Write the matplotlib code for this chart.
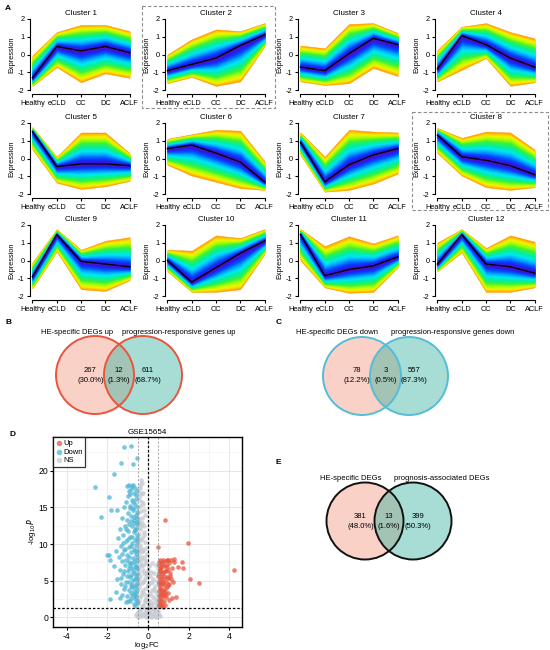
import numpy as np
import matplotlib
matplotlib.use("Agg")
import matplotlib.pyplot as plt
from matplotlib.colors import LinearSegmentedColormap
from matplotlib.patches import Circle, Rectangle

plt.rcParams['font.family'] = ['Liberation Sans', 'DejaVu Sans']
plt.rcParams['axes.unicode_minus'] = False

# ---------------- data ----------------
stages = ['Healthy', 'eCLD', 'CC', 'DC', 'ACLF']
cluster_names = ['Cluster %d' % i for i in range(1, 13)]

centers = [
    [-1.3, 0.45, 0.2, 0.45, 0.1],
    [-0.9, -0.55, -0.2, 0.5, 1.1],
    [-0.7, -0.9, 0.05, 0.9, 0.55],
    [-0.8, 1.05, 0.55, -0.2, -0.7],
    [1.5, -0.45, -0.3, -0.3, -0.4],
    [0.55, 0.75, 0.3, -0.2, -1.3],
    [0.9, -1.3, -0.35, 0.2, 0.55],
    [1.3, 0.1, -0.1, -0.4, -0.9],
    [-0.9, 1.45, -0.05, -0.2, -0.35],
    [0.0, -1.2, -0.4, 0.4, 1.1],
    [1.45, -0.85, -0.5, -0.3, 0.2],
    [-0.2, 1.45, -0.2, -0.35, -0.7],
]
upper_env = [
    [-0.05, 1.25, 1.65, 1.65, 1.3],
    [0.0, 0.85, 1.4, 1.3, 1.75],
    [0.5, 0.35, 1.7, 1.75, 1.2],
    [0.25, 1.55, 1.75, 1.25, 0.9],
    [1.75, 0.1, 1.45, 1.45, 0.3],
    [1.1, 1.35, 1.6, 1.55, -0.15],
    [1.45, 0.1, 1.6, 1.5, 1.45],
    [1.7, 1.15, 1.5, 1.45, 0.5],
    [-0.1, 1.75, 0.6, 1.1, 1.3],
    [0.6, 0.55, 1.4, 1.25, 1.75],
    [1.75, 0.8, 1.35, 0.95, 1.4],
    [1.0, 1.75, 0.7, 1.4, 1.05],
]
lower_env = [
    [-1.75, -0.7, -1.55, -1.05, -1.3],
    [-1.6, -1.25, -1.75, -1.5, 0.45],
    [-1.5, -1.7, -1.6, -0.75, -1.2],
    [-1.5, -0.85, -0.2, -1.75, -1.55],
    [0.5, -1.35, -1.7, -1.55, -1.25],
    [-0.35, -0.95, -1.3, -1.65, -1.75],
    [0.2, -1.85, -1.75, -1.4, -0.85],
    [0.3, -0.95, -1.6, -1.75, -1.6],
    [-1.55, 0.5, -1.6, -1.7, -1.1],
    [-0.6, -1.75, -1.75, -1.6, 0.35],
    [0.0, -1.5, -1.8, -1.75, -0.4],
    [-0.6, 0.45, -1.75, -1.75, -1.5],
]

venn_B_sets = ['HE-specific DEGs up', 'progression-responsive genes up']
venn_B_counts = [267, 12, 611]
venn_C_sets = ['HE-specific DEGs down', 'progression-responsive genes down']
venn_C_counts = [78, 3, 557]
venn_E_sets = ['HE-specific DEGs', 'prognosis-associated DEGs']
venn_E_counts = [381, 13, 399]

volcano_title = 'GSE15654'
down_fc = [-1.19, -0.84, -1.33, -0.75, -0.53, -1.66, -2.62, -1.91, -1.84, -2.34, -1.93, -1.87, -1.55, -2.03, -1.88,
           -1.05, -0.95, -0.85, -0.78, -0.9, -1.0, -0.7, -0.6, -0.8, -1.1, -0.65, -0.9, -0.55, -1.2, -0.75, -1.0,
           -0.6, -0.85, -1.3, -0.7, -0.55, -0.95,
           -1.15, -0.8, -0.6, -1.4, -1.0, -0.7, -0.55, -1.25, -0.9, -1.5, -0.65, -1.1, -0.8, -0.58, -1.35, -0.95,
           -0.7, -1.2, -1.6, -0.85, -0.6, -1.05, -1.45, -0.75,
           -0.55, -1.3, -0.95, -0.65, -1.15, -1.7, -0.8, -0.56, -1.4, -1.0, -0.7, -1.25, -0.6, -0.9, -1.55, -0.75,
           -1.1, -0.55, -1.35, -0.85, -0.65, -1.2, -0.95, -1.6, -0.58, -0.75, -1.05, -1.4, -0.62, -0.9, -0.55,
           -0.7, -1.1, -0.52, -0.68, -0.88, -0.52, -0.62, -0.72, -0.54, -0.66, -0.8, -0.57,
           -0.52, -0.62, -0.72, -0.88, -0.53, -0.67, -0.83, -1.08, -0.52, -0.63, -0.77, -0.98, -1.22, -0.54,
           -0.86, -1.12, -0.64, -0.93, -1.28, -0.53, -0.69, -0.84, -1.08, -0.58, -0.95, -1.18, -0.74, -0.52,
           -0.82, -1.06, -1.32, -0.66, -0.95, -0.57, -0.78, -1.15, -0.52, -0.71, -0.86, -1.28, -0.6, -0.82,
           -0.52, -1.0, -0.66, -0.58, -0.92, -0.73, -0.56, -1.02]
down_p = [23.2, 23.4, 21.0, 20.9, 21.7, 19.5, 17.8, 16.4, 14.6, 13.7, 8.5, 2.46, 14.7, 8.5, 7.9,
          17.9, 18.0, 17.5, 17.9, 16.8, 16.5, 16.9, 16.2, 16.0, 15.8, 15.5, 15.2, 15.0, 15.0, 14.6, 14.3,
          14.0, 13.8, 13.5, 13.3, 13.0, 12.8,
          12.5, 12.4, 12.2, 12.0, 11.8, 11.6, 11.3, 11.2, 11.0, 10.8, 10.6, 10.4, 10.2, 9.9, 9.8, 9.6,
          9.4, 9.2, 9.0, 8.9, 8.7, 8.5, 8.3, 8.1,
          7.9, 7.7, 7.5, 7.3, 7.1, 7.0, 6.8, 6.6, 6.5, 6.3, 6.1, 5.9, 5.7, 5.5, 5.3, 5.1,
          4.9, 4.7, 4.5, 4.3, 4.1, 3.9, 3.7, 3.5, 3.3, 3.1, 2.9, 2.7, 2.5, 2.3, 2.0,
          1.8, 2.1, 10.9, 12.9, 7.2, 5.3, 3.0, 14.9, 9.1, 11.9, 4.6, 6.9,
          17.2, 17.6, 15.8, 14.9, 14.4, 13.7, 13.1, 12.1, 12.7, 11.9, 11.0, 10.7, 10.1, 10.4,
          9.7, 9.4, 9.0, 8.2, 8.7, 8.3, 7.7, 7.4, 7.8, 6.9, 6.7, 6.4, 6.4, 5.9,
          5.8, 5.6, 5.4, 5.3, 4.8, 4.4, 4.1, 4.3, 3.8, 3.6, 3.3, 3.1, 2.8, 2.6,
          2.3, 2.2, 1.6, 16.7, 17.2, 18.1, 13.6, 13.3]
up_fc = [0.84, 1.96, 4.23, 2.07, 2.5, 1.7, 1.3, 1.5, 0.5, 1.74, 1.38, 1.17,
         0.55, 0.6, 0.7, 0.52, 0.65, 0.8, 0.58, 0.75, 0.9, 0.53, 0.68, 0.85, 1.0, 0.6, 0.78, 0.95, 0.55, 0.7,
         0.88, 1.05, 0.62, 0.8, 0.98, 1.15, 0.56, 0.72, 0.9, 1.1, 0.6, 0.78, 0.95, 1.2, 0.68, 0.85, 1.05, 0.55,
         0.75, 1.0, 1.3, 0.58, 0.66, 0.52, 0.63, 0.72, 0.83, 0.57,
         0.54, 0.63, 0.72, 0.86, 0.57, 0.76, 0.93, 0.64, 0.51, 0.69, 0.83, 1.0, 0.58, 0.66, 0.88, 0.54,
         0.71, 1.12, 0.92, 0.61, 0.79, 1.08, 0.74, 0.97, 1.25, 0.53, 0.82, 1.02]
up_p = [13.3, 10.1, 6.46, 5.2, 4.7, 7.6, 8.0, 6.9, 9.6, 6.8, 2.8, 2.7,
        1.6, 2.0, 1.8, 2.4, 2.6, 2.2, 3.0, 3.2, 2.8, 3.6, 3.8, 3.5, 3.3, 4.2, 4.4, 4.1, 4.8, 5.0,
        4.9, 4.6, 5.5, 5.7, 5.4, 5.2, 6.0, 6.2, 6.4, 6.1, 6.8, 7.0, 6.9, 6.7, 7.5, 7.7, 7.4, 7.2,
        7.9, 7.9, 7.5, 5.2, 3.4, 4.5, 1.5, 1.4, 3.0, 6.5,
        2.9, 2.3, 2.9, 3.9, 3.9, 4.7, 5.5, 4.6, 5.6, 5.9, 6.3, 6.5, 6.4, 6.9, 7.2, 7.6,
        7.3, 7.8, 7.9, 7.9, 5.3, 5.7, 3.6, 4.4, 4.9, 1.9, 1.7, 2.4]
ns_fc = [-0.35, -0.3, -0.4, -0.25, -0.45, -0.3, -0.4, -0.2, -0.48, -0.32, -0.42, -0.22, -0.38, -0.46, -0.28,
         -0.15, -0.4, -0.3, -0.45, -0.18, -0.35, -0.1, 0.05, -0.42, -0.25, 0.15, -0.05, -0.38, 0.25, -0.2,
         0.1, -0.45, 0.35, -0.1, 0.2, -0.3, 0.42, 0.0, -0.4, 0.3, -0.15, 0.12, -0.48, 0.45, -0.25, 0.05, 0.38,
         -0.35, 0.2, -0.1, 0.48, -0.5, 0.3, -0.2, 0.1, -0.4, 0.55, 0.0, -0.6, 0.25, -0.3, 0.4, -0.1, 0.15,
         -0.5, 0.6, -0.05, 0.08, -0.2, 0.3, -0.05, -0.2, -0.12, 0.02, -0.28, 0.18, -0.44, 0.33, -0.08, -0.36,
         0.44, -0.16, 0.07, -0.26, -0.43, -0.33, -0.47, -0.24, -0.39, -0.14, 0.0, 0.22, -0.07, 0.12, 0.36,
         -0.45, -0.3, -0.15, 0.05, 0.2, 0.35, 0.5, -0.55, -0.4, -0.05, 0.15, 0.3, -0.3, -0.45, 0.0, 0.25,
         -0.1, 0.4, -0.35, 0.1, 0.35, -0.25, -0.45, 0.0, 0.2, -0.3, -0.15, 0.1, -0.45, -0.2, 0.3, 0.0,
         -0.3, -0.45, -0.15, -0.35, -0.25, -0.45, -0.1, -0.33, -0.45, -0.22, -0.4, -0.28, -0.45, -0.35,
         -0.25, -0.42, -0.33, -0.38, 0.45, 0.4, 0.2, 0.48]
ns_p = [18.8, 18.3, 17.6, 17.0, 16.4, 15.8, 15.2, 14.7, 14.2, 13.6, 13.0, 12.5, 12.0, 11.4, 10.9,
        10.3, 9.8, 9.3, 8.8, 8.3, 7.8, 7.4, 7.0, 6.9, 6.5, 6.2, 5.9, 5.6, 5.3, 5.0,
        4.7, 4.5, 4.3, 4.0, 3.7, 3.5, 3.2, 3.0, 2.8, 2.6, 2.4, 2.2, 2.0, 1.9, 1.7, 1.5, 1.4,
        1.2, 1.1, 1.0, 0.9, 0.8, 0.7, 0.6, 0.5, 0.4, 0.4, 0.3, 0.3, 0.2, 0.15, 0.1, 0.1, 0.05,
        0.05, 0.2, 0.6, 1.8, 3.2, 3.9, 8.6, 11.6, 6.0, 4.4, 9.0, 2.9, 10.0, 0.9, 1.3, 12.6,
        2.4, 14.0, 0.7, 7.2, 5.2, 16.8, 9.5, 4.8, 7.0, 2.1, 5.6, 0.4, 0.9, 1.5, 1.0,
        0.2, 0.5, 0.3, 0.9, 0.4, 0.25, 0.6, 0.5, 1.0, 1.2, 1.6, 1.2, 1.5, 2.3, 2.1, 2.0,
        2.6, 2.4, 3.0, 3.3, 3.6, 3.8, 4.1, 4.4, 4.9, 4.7, 5.4, 5.6, 6.2, 6.0, 6.0, 6.5,
        7.2, 7.6, 7.8, 8.2, 9.0, 9.3, 9.5, 10.5, 10.7, 11.2, 12.3, 12.9, 13.4, 14.5,
        15.4, 16.0, 16.9, 18.0, 5.0, 7.1, 7.4, 6.6]

# ---------------- figure ----------------
W, H = 550, 650
fig = plt.figure(figsize=(W / 100, H / 100), dpi=100)

def ax_px(l, t, w, h, **kw):
    return fig.add_axes([l / W, 1 - (t + h) / H, w / W, h / H], **kw)

ov = ax_px(0, 0, W, H)
ov.set_xlim(0, W)
ov.set_ylim(H, 0)
ov.axis('off')

mfuzz_cmap = LinearSegmentedColormap.from_list('mfuzz', [
    (0.0, '#FF9A00'), (0.05, '#FFC800'), (0.12, '#F5F500'), (0.22, '#A6FF00'),
    (0.34, '#3CF03C'), (0.48, '#00F0A0'), (0.6, '#00E8F0'), (0.72, '#00A8FF'),
    (0.84, '#0050FF'), (0.94, '#2020F0'), (1.0, '#4A10D0')])

FS = 5.3
col_left = [30, 165, 298, 435]
row_top = [15, 119, 221]
xs = np.arange(1, 6)
fracs = np.linspace(1.0, 0.05, 30)
for i in range(12):
    r, c = divmod(i, 4)
    ax = ax_px(col_left[c], row_top[r], 102, 79)
    cen = np.array(centers[i])
    up = np.array(upper_env[i])
    lo = np.array(lower_env[i])
    for f in fracs:
        t = 1 - (f - fracs[-1]) / (fracs[0] - fracs[-1])
        ax.fill_between(xs, cen + (lo - cen) * f, cen + (up - cen) * f,
                        color=mfuzz_cmap(t), lw=0.3, ec=mfuzz_cmap(t))
    ax.plot(xs, cen, color='black', lw=1.0)
    ax.set_xlim(0.9, 5.1)
    ax.set_ylim(-2.2, 2.2)
    ax.set_xticks(xs)
    ax.set_xticklabels(stages)
    ax.set_yticks([-2, -1, 0, 1, 2])
    ax.spines['top'].set_visible(False)
    ax.spines['right'].set_visible(False)
    ax.spines['left'].set_bounds(-2, 2)
    ax.spines['bottom'].set_bounds(1, 5)
    for s in ('left', 'bottom'):
        ax.spines[s].set_linewidth(0.8)
    ax.tick_params(labelsize=FS, length=2.5, width=0.8, pad=1.5)
    ax.set_ylabel('Expression', fontsize=FS, labelpad=1.5)
    ax.text(0.5, 0.975, cluster_names[i], transform=ax.transAxes,
            ha='center', va='bottom', fontsize=5.8)
    ax.patch.set_alpha(0)

ov.add_patch(Rectangle((142, 6), 133, 102, fill=False, ls=(0, (3, 2)), lw=0.8, ec='#8C8C8C'))
ov.add_patch(Rectangle((412, 112), 136, 98, fill=False, ls=(0, (3, 2)), lw=0.8, ec='#8C8C8C'))

for lab, (x, y) in {'A': (5, 8), 'B': (5, 323), 'C': (276, 323), 'D': (10, 435), 'E': (276, 463)}.items():
    ov.text(x, y, lab, fontsize=6, fontweight='bold', ha='left', va='center')

# ---------------- Venn diagrams ----------------
VFS = 5.5
def venn(cl, cr, cy, rad, sets, counts, edge, ty, tx):
    ov.add_patch(Circle((cl, cy), rad, fc='#F08C73', alpha=0.4, ec='none'))
    ov.add_patch(Circle((cr, cy), rad, fc='#3CB4A0', alpha=0.45, ec='none'))
    ov.add_patch(Circle((cl, cy), rad, fill=False, ec=edge, lw=1.4))
    ov.add_patch(Circle((cr, cy), rad, fill=False, ec=edge, lw=1.4))
    tot = sum(counts)
    pos = [cl - rad * 0.12, (cl + cr) / 2, cr + rad * 0.12]
    for x, n in zip(pos, counts):
        ov.text(x, cy - 5, str(n), ha='center', va='center', fontsize=VFS)
        ov.text(x, cy + 5, '(%.1f%%)' % (100 * n / tot), ha='center', va='center', fontsize=VFS)
    ov.text(tx[0], ty, sets[0], ha='center', va='center', fontsize=VFS)
    ov.text(tx[1], ty, sets[1], ha='center', va='center', fontsize=VFS)

venn(95, 143, 375, 39, venn_B_sets, venn_B_counts, '#E8553F', 332, (77, 179))
venn(362, 409, 376, 39, venn_C_sets, venn_C_counts, '#55BCD8', 332, (337, 453))
venn(365, 413, 521, 38.5, venn_E_sets, venn_E_counts, '#111111', 478, (351, 442))

# ---------------- Volcano ----------------
axv = ax_px(53, 437, 189, 190)
axv.set_xlim(-4.69, 4.64)
axv.set_ylim(-1.3, 24.6)
axv.set_xticks([-4, -2, 0, 2, 4])
axv.set_xticks([-3, -1, 1, 3], minor=True)
axv.set_yticks([0, 5, 10, 15, 20])
axv.set_yticks([2.5, 7.5, 12.5, 17.5, 22.5], minor=True)
axv.grid(which='major', color='#E3E3E3', lw=0.6)
axv.grid(which='minor', color='#EFEFEF', lw=0.4)
axv.set_axisbelow(True)
axv.tick_params(which='minor', length=0)
axv.tick_params(which='major', labelsize=6.2, length=2.5, width=0.8, pad=1)
for s in axv.spines.values():
    s.set_linewidth(1.0)
axv.scatter(ns_fc, ns_p, s=11, c='#C8CDD3', alpha=0.8, lw=0, label='NS', zorder=2)
axv.scatter(down_fc, down_p, s=11, c='#4DB6D6', alpha=0.75, lw=0, label='Down', zorder=2)
axv.scatter(up_fc, up_p, s=11, c='#E8553F', alpha=0.75, lw=0, label='Up', zorder=2)
axv.axvline(-0.5, color='#9A9A9A', ls=(0, (2.5, 2)), lw=0.6, zorder=3)
axv.axvline(0.5, color='#9A9A9A', ls=(0, (2.5, 2)), lw=0.6, zorder=3)
axv.axvline(0, color='black', ls=(0, (2, 1.5)), lw=0.9, zorder=3)
axv.axhline(-np.log10(0.05), color='black', ls=(0, (2, 1.5)), lw=0.9, zorder=3)
axv.set_title(volcano_title, fontsize=5.8, pad=2)
axv.set_xlabel('log$_2$FC', fontsize=5.6, labelpad=-0.5)
axv.set_ylabel('-log$_{10}$$P$', fontsize=5.6, labelpad=0)
h, l = axv.get_legend_handles_labels()
order = [2, 1, 0]
leg = axv.legend([h[k] for k in order], [l[k] for k in order], loc='upper left',
                 fontsize=5.5, frameon=True, fancybox=False, borderaxespad=0,
                 handletextpad=0.1, borderpad=0.3, labelspacing=0.2,
                 handlelength=1.0, markerscale=1.2)
leg.get_frame().set_edgecolor('black')
leg.get_frame().set_linewidth(0.9)

fig.savefig('out.png', dpi=100)
